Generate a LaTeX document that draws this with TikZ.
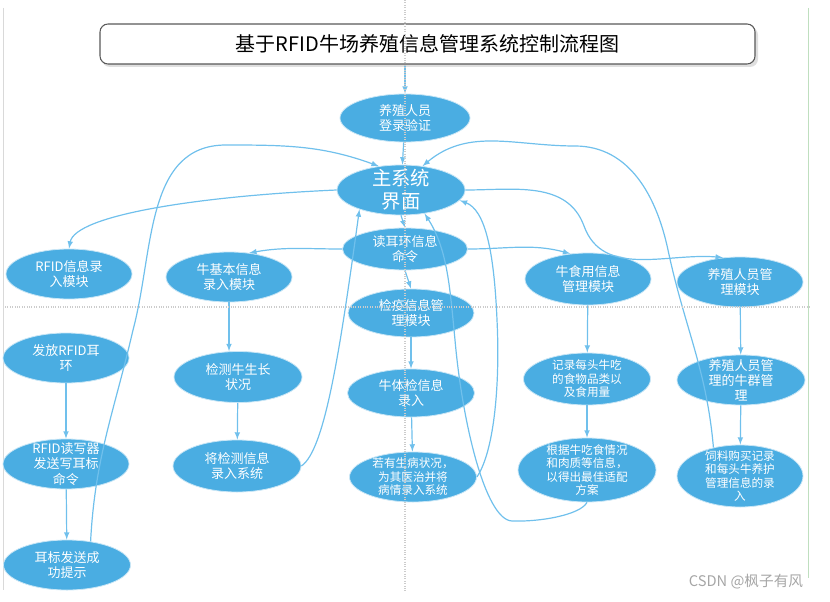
\documentclass[tikz,border=0pt]{standalone}
\usepackage{fontspec}
\newfontfamily\cjk{Noto Sans CJK SC}
\usetikzlibrary{shapes.geometric}
\tikzset{>=latex}
\definecolor{nodeblue}{RGB}{74,173,226}
\definecolor{linkblue}{RGB}{112,192,236}
\tikzset{
  blob/.style={ellipse,fill=nodeblue,draw=white!70!nodeblue,line width=0.6pt,text=white,
    align=center,inner sep=-4pt,font=\cjk\fontsize{9.75}{11.4}\selectfont},
  small/.style={font=\cjk\fontsize{8.7}{10.1}\selectfont},
  wh/.style 2 args={minimum width=#1*0.75pt,minimum height=#2*0.75pt},
  link/.style={->,linkblue,line width=0.9pt},
  titlebox/.style={draw=gray!70!black,fill=white,rounded corners=6pt,line width=0.8pt,
    font=\cjk\fontsize{15}{17}\selectfont}
}

\begin{document}
\begin{tikzpicture}[x=0.75pt,y=-0.75pt]
  \useasboundingbox (0,0) rectangle (830,602);
  \draw[gray!30] (3,8) -- (3,590);
  \draw[green!50!black!25] (808,8) -- (808,578);
  % title
  \fill[gray!25,rounded corners=6pt] (102,27) rectangle (758,67);
  \node[titlebox,wh={655}{40}] (title) at (427.5,44) {基于RFID牛场养殖信息管理系统控制流程图};
  % middle column
  \node[blob,wh={130}{48}] (login) at (405,118) {养殖人员\\登录验证};
  \node[blob,wh={128}{50},font=\cjk\fontsize{14.5}{17}\selectfont] (main) at (401,190) {主系统\\界面};
  \node[blob,wh={125}{42}] (ear) at (405,249) {读耳环信息\\命令};
  \node[blob,wh={126}{48}] (quar) at (411,313) {检疫信息管\\理模块};
  \node[blob,wh={127}{48}] (check) at (411,393) {牛体检信息\\录入};
  \node[blob,small,wh={127}{50}] (sick) at (413,477) {若有生病状况，\\为其医治并将\\病情录入系统};
  % left columns
  \node[blob,wh={126}{50}] (rfidin) at (69,274) {RFID信息录\\入模块};
  \node[blob,wh={126}{50}] (issue) at (66,358) {发放RFID耳\\环};
  \node[blob,wh={126}{50}] (writer) at (66,464) {RFID读写器\\发送写耳标\\命令};
  \node[blob,wh={127}{50}] (done) at (67,565) {耳标发送成\\功提示};
  \node[blob,wh={126}{50}] (basic) at (229,277) {牛基本信息\\录入模块};
  \node[blob,wh={128}{51}] (grow) at (238,377) {检测牛生长\\状况};
  \node[blob,wh={128}{52}] (enter) at (237,466) {将检测信息\\录入系统};
  % right columns
  \node[blob,wh={126}{52}] (food) at (588,279) {牛食用信息\\管理模块};
  \node[blob,small,wh={127}{52}] (record) at (587,379) {记录每头牛吃\\的食物品类以\\及食用量};
  \node[blob,small,wh={138}{64}] (plan) at (587,470) {根据牛吃食情况\\和肉质等信息，\\以得出最佳适配\\方案};
  \node[blob,wh={126}{50}] (staff) at (740,282) {养殖人员管\\理模块};
  \node[blob,wh={128}{50}] (herd) at (741,380) {养殖人员管\\理的牛群管\\理};
  \node[blob,small,wh={126}{62}] (feed) at (740,476) {饲料购买记录\\和每头牛养护\\管理信息的录\\入};
  % straight links
  \draw[link] (login.north |- title.south) -- (login.north);
  \draw[link] (login) -- (main);
  \draw[link] (main.south) -- (ear.north);
  \draw[link] (ear.south) -- (quar.north);
  \draw[link] (quar) -- (check);
  \draw[link] (check) -- (sick);
  \draw[link] (issue) -- (writer);
  \draw[link] (writer) -- (done);
  \draw[link] (basic.south) -- (basic.south |- grow.north);
  \draw[link] (grow) -- (enter);
  \draw[link] (food) -- (record);
  \draw[link] (record) -- (plan);
  \draw[link] (staff) -- (herd);
  \draw[link] (herd) -- (feed);
  % curved links
  \draw[link] (main.west) .. controls (200,196) and (75,215) .. (rfidin.north);
  \draw[link] (ear.west) to[out=180,in=10] (basic.50);
  \draw[link] (ear.east) to[out=0,in=165] (food.125);
  \draw[link] (main.east) to[out=0,in=110] (584,226) to[out=-70,in=175] (staff.125);
  \draw[link] (feed.133) to[out=95,in=-78] (668,250) to[out=102,in=0] (575,146) to[out=180,in=40] (main.48);
  \draw[link] (done.45) to[out=87,in=-103] (133,330) to[out=75,in=180] (226,145) to[out=0,in=160] (main.133);
  \draw[link] (enter.east) .. controls (325,450) and (340,350) .. (main.205);
  \draw[link] (plan.south) .. controls (580,515) and (540,522) .. (512,521)
    .. controls (485,520) and (462,420) .. (455,340) .. controls (450,290) and (448,250) .. (main.-45);
  \draw[link] (sick.east) .. controls (495,450) and (500,380) .. (497,320)
    .. controls (494,250) and (485,210) .. (main.-10);
  % guide lines
  \draw[gray!40,densely dotted,line width=0.8pt] (405,0) -- (405,592);
  \draw[gray!40,densely dotted,line width=0.8pt] (5,307) -- (810,307);
  \node[text=gray!70,font=\cjk\fontsize{11}{13}\selectfont] (mark) at (746,582) {CSDN @枫子有风};
\end{tikzpicture}
\end{document}
